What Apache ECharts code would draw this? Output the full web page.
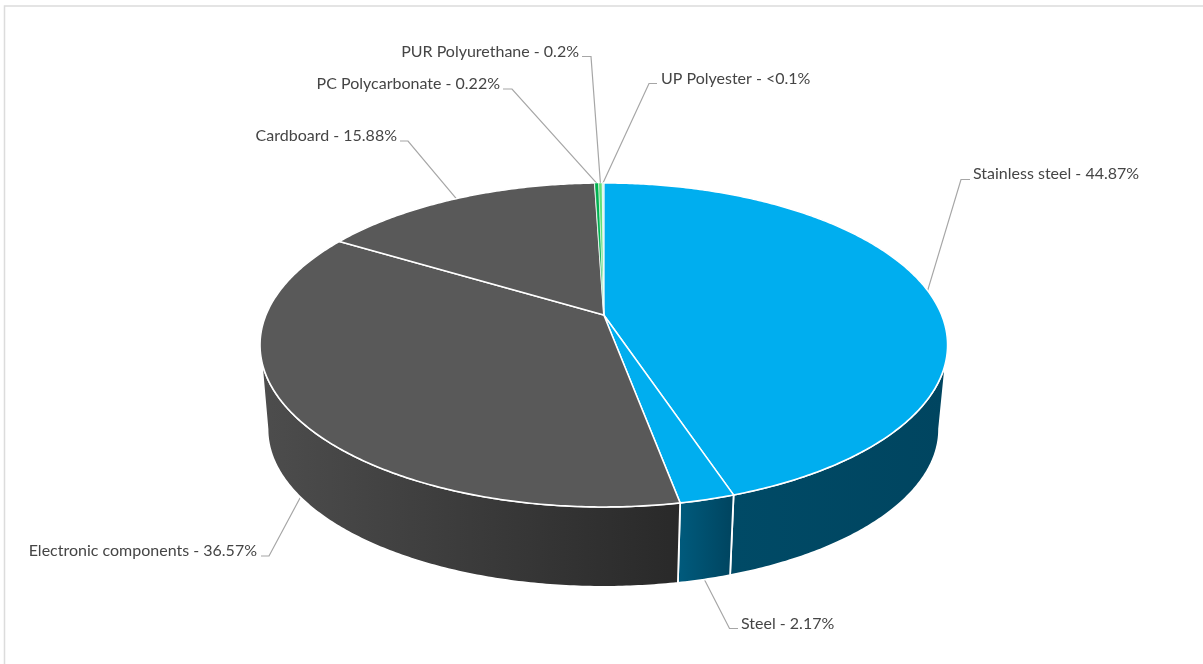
<!DOCTYPE html>
<html>
<head>
<meta charset="utf-8">
<title>Material shares</title>
<script src="https://cdn.jsdelivr.net/npm/echarts@6/dist/echarts.min.js"></script>
<style>
  html, body { margin: 0; background: #fff; }
  #main { width: 1203px; height: 664px; }
</style>
</head>
<body>
<div id="main"></div>
<script>
// clockwise from 12 o'clock
var categories = ['Stainless steel', 'Steel', 'Electronic components', 'Cardboard', 'PC Polycarbonate', 'PUR Polyurethane', 'UP Polyester'];
var shareValues = [44.87, 2.17, 36.57, 15.88, 0.22, 0.2, 0.09];
var shareTexts = ['44.87%', '2.17%', '36.57%', '15.88%', '0.22%', '0.2%', '<0.1%'];

var topColors = ['#00aeef', '#00aeef', '#595959', '#595959', '#00b050', '#5fe07a', '#c8f0e0'];

// label anchor: text x, text middle y, side, elbow x, elbow y, shelf end x
var labelSpots = [
  [973, 174, 'left', 961, 179.5, 970],
  [741, 623.5, 'left', 729.5, 628.5, 738],
  [257, 550.5, 'right', 269, 556, 261],
  [397, 135.5, 'right', 408, 141, 400],
  [500, 84, 'right', 512, 89, 503],
  [579, 51.5, 'right', 591, 56.5, 582],
  [661, 78.5, 'left', 649, 83.5, 657]
];

// perspective disc: top face and the smaller bottom face
var top3d = { cx: 603.8, cy: 315, a: 337.8, b: 156.4, k: 0.185 };
var bottom3d = { cx: 603.3, cy: 400, a: 330, b: 152.3, k: 0.185 };
var wallFrom = Math.acos(-top3d.k);
var wallTo = 2 * Math.PI - wallFrom;

var total = shareValues.reduce(function (s, v) { return s + v; }, 0);

function project(face, angle) {
  var d = 1 + face.k * Math.cos(angle);
  return [face.cx + face.a * Math.sin(angle) / d, face.cy - face.b * Math.cos(angle) / d];
}

function sliceAngles(index, value) {
  var before = 0;
  for (var i = 0; i < index; i++) before += shareValues[i];
  return [before / total * 2 * Math.PI, (before + value) / total * 2 * Math.PI];
}

function arcPoints(face, from, to) {
  var n = Math.max(2, Math.ceil((to - from) / 0.01));
  var pts = [];
  for (var i = 0; i <= n; i++) pts.push(project(face, from + (to - from) * i / n));
  return pts;
}

function wallFill(index) {
  var stops = index === 2
    ? [[0, '#4d4d4d'], [1, '#292929']]
    : index === 1
      ? [[0, '#005a7c'], [1, '#00445f']]
      : [[0, '#004a66'], [1, '#004560']];
  var range = index === 2 ? [260, 680] : index === 1 ? [680, 734] : [734, 947];
  return {
    type: 'linear', global: true,
    x: range[0], y: 0, x2: range[1], y2: 0,
    colorStops: stops.map(function (s) { return { offset: s[0], color: s[1] }; })
  };
}

function renderLeader(params, api) {
  var i = params.dataIndex;
  var ang = sliceAngles(i, api.value(0));
  var mid = (ang[0] + ang[1]) / 2;
  var frontFacing = mid > wallFrom && mid < wallTo;
  var from = project(frontFacing ? bottom3d : top3d, mid);
  var spot = labelSpots[i];
  return {
    type: 'polyline',
    shape: { points: [from, [spot[3], spot[4]], [spot[5], spot[4]]] },
    style: { stroke: '#a6a6a6', lineWidth: 1.2, fill: 'none' }
  };
}

function renderWall(params, api) {
  var i = params.dataIndex;
  var ang = sliceAngles(i, api.value(0));
  var from = Math.max(ang[0], wallFrom);
  var to = Math.min(ang[1], wallTo);
  if (to <= from) return null;
  var pts = arcPoints(top3d, from, to).concat(arcPoints(bottom3d, from, to).reverse());
  return {
    type: 'polygon',
    shape: { points: pts },
    style: { fill: wallFill(i), stroke: '#fff', lineWidth: 1.8 }
  };
}

function renderTop(params, api) {
  var i = params.dataIndex;
  var value = api.value(0);
  var ang = sliceAngles(i, value);
  var pts = [[top3d.cx, top3d.cy]].concat(arcPoints(top3d, ang[0], ang[1]));
  return {
    type: 'polygon',
    shape: { points: pts },
    style: { fill: topColors[i], stroke: '#fff', lineWidth: value < 1 ? 0.5 : 1.5 }
  };
}

function renderLabel(params, api) {
  var i = params.dataIndex;
  var spot = labelSpots[i];
  return {
    type: 'text',
    style: {
      x: spot[0], y: spot[1],
      text: categories[i] + ' - ' + shareTexts[i],
      align: spot[2], verticalAlign: 'middle',
      fill: '#454545',
      font: '16px Lato, sans-serif'
    }
  };
}

function layer(name, z, renderItem) {
  return {
    type: 'custom', name: name, coordinateSystem: 'none', z: z, silent: true,
    data: shareValues, renderItem: renderItem, animation: false
  };
}

var chart = echarts.init(document.getElementById('main'), null, { renderer: 'canvas' });
chart.setOption({
  animation: false,
  backgroundColor: '#fff',
  graphic: [
    { type: 'polyline', z: 0, silent: true,
      shape: { points: [[4.5, 664], [4.5, 6], [1203, 6]] },
      style: { stroke: '#dcdcdc', lineWidth: 1.5, fill: 'none' } }
  ],
  series: [
    layer('leaders', 1, renderLeader),
    layer('walls', 2, renderWall),
    layer('tops', 3, renderTop),
    layer('labels', 4, renderLabel)
  ]
});
</script>
</body>
</html>
